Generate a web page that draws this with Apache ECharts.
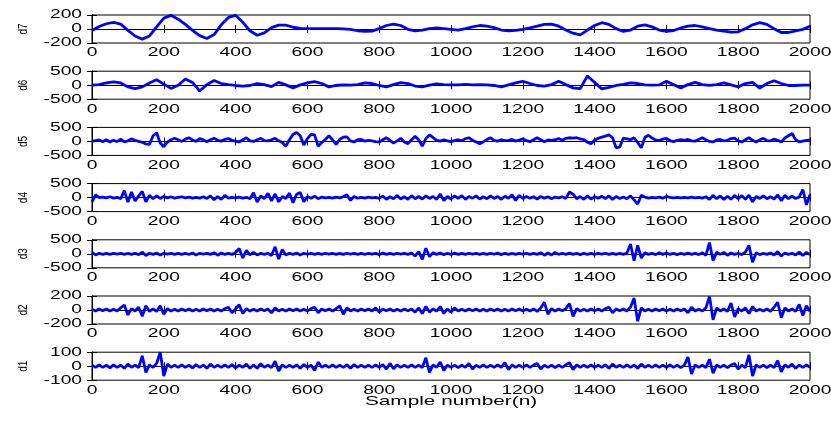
<!DOCTYPE html>
<html>
<head>
<meta charset="utf-8">
<script src="https://cdn.jsdelivr.net/npm/echarts@6/dist/echarts.min.js"></script>
<style>
  html, body { margin: 0; background: #fff; }
  #chart { width: 831px; height: 421px; }
</style>
</head>
<body>
<div id="chart"></div>
<script>
// detail coefficients, d7/d6 every 20 samples, the rest every 10
var d7 = [-20, 35, 75, 95, 70, -20, -100, -145, -100, 30, 155, 195, 140, 65, -20, -95, -135, -80, 60, 165,
  195, 95, -25, -90, -55, 20, 55, 55, 25, 8, 5, 5, 5, 5, 5, 3, -5, -25, -35, -30,
  5, 50, 70, 50, -5, -28, -15, 5, 15, 5, -5, -15, 5, 30, 50, 40, 20, -15, -28, -20,
  -5, 15, 40, 65, 70, 40, -15, -60, -85, -15, 50, 90, 65, 5, -35, -15, 40, 60, 30, -15,
  -35, -22, 15, 40, 50, 30, 5, -15, -30, -45, -40, 5, 60, 90, 65, 5, -50, -50, -28, -5, 40]
var d6 = [0, 20, 80, 120, 80, -60, -125, -60, 80, 195, 40, -115, 0, 220, 100, -210, 20, 170, 60, 20,
  -10, -30, -10, 60, 20, -50, 100, 10, -95, 10, 80, 130, 60, -60, -10, 10, 0, 20, 80, 60,
  -10, -60, 20, 95, 60, -30, -60, 0, 50, 20, 10, 10, 30, 10, 20, 10, -10, -60, 10, 80,
  140, 60, -10, -30, 20, 140, 20, -95, -120, 330, 100, -130, -80, -10, 30, 80, 60, 10, 0, 10,
  140, 20, -95, 20, 100, 20, -10, 20, 80, 10, -60, 60, 100, -105, 60, 160, 60, -10, -10, 0, 0]
var d5 = [10, 30, 50, -10, 60, -20, 40, -10, 80, -20,
  20, 90, 40, 0, -30, -90, -110, 200, 310, -60,
  -190, -30, 60, 110, 60, 0, 80, 130, 50, 0,
  100, 60, -10, 60, 110, 40, 10, 70, 100, 40,
  10, -20, 60, 130, 20, 0, 60, 110, 30, 20,
  60, 110, 20, -40, -170, 60, 250, 320, 200, -130,
  100, 250, 230, -170, -40, 70, 200, 60, -110, 80,
  150, 160, 20, -20, 60, 70, 10, 40, 20, -10,
  -20, 60, 130, 40, -60, 20, 110, -20, -80, 60,
  180, 60, -170, 100, 230, 140, 40, 10, 60, 20,
  -10, 30, 60, 20, 100, 130, 40, -20, -85, -20,
  70, 130, 40, 10, 60, 30, 40, 70, 10, 50,
  90, 30, -10, 60, 130, 60, -10, 50, 40, 60,
  100, 40, 110, 130, 120, 130, 90, 60, -30, -85,
  40, 110, 150, 190, 230, 130, -230, -200, 120, 90,
  60, 130, -40, -230, 140, 220, 120, 50, 30, 80,
  110, 30, -10, 40, 60, 40, 70, 20, 10, 70,
  130, 60, 0, -20, 50, 70, 20, 40, 100, 120,
  20, -20, 60, 130, 40, -20, 60, 110, 30, 20,
  80, 40, -20, 120, 200, 280, 60, -20, 10, 40,
  50]
var d4 = [-150, 100, 0, 20, -10, 30, -20, 10, -40, 250,
  -160, 200, -120, 60, 220, -150, 80, -40, 60, -30,
  40, -10, 30, -20, 10, 30, -10, 20, -20, 10,
  -20, 30, -30, 60, -80, 40, -60, 80, -20, 10,
  -10, 20, -20, 10, -40, 170, -160, 60, -40, 150,
  -120, 130, -150, 40, -30, 160, -180, 120, 180, -150,
  40, -20, 50, -40, 20, -10, 10, -20, 20, -10,
  30, 100, -100, 40, -20, 10, -20, 20, -10, 10,
  -30, 60, -60, 30, -40, 80, -50, 30, -60, 70,
  -40, 40, -50, 60, -30, 40, -60, 130, -110, 40,
  -50, 60, -30, 70, -60, 40, -20, 60, -50, 30,
  -40, 60, -30, 40, -60, 50, -20, 100, -100, 80,
  -30, 40, -20, 30, -50, 40, -20, 30, -40, 20,
  -10, 30, -30, 200, 120, -40, 40, -60, 60, -50,
  30, -20, 50, -40, 60, -70, 40, -30, 20, -40,
  60, -80, -230, 80, 20, -20, 10, -10, 20, -20,
  40, 10, -10, 10, -10, 10, -10, 20, -10, 10,
  -20, 30, -60, 80, -40, 60, -70, 50, -60, 80,
  -40, 70, -60, 90, -150, 40, -30, 60, -40, 30,
  -50, 100, -110, 80, -40, 50, -30, 20, 290, -260,
  100]
var d3 = [50, -40, 20, -20, 15, -20, 20, -15, 20, -20,
  15, -20, 20, -30, 60, -60, 20, -20, 30, -40,
  20, -15, 20, -20, 15, -20, 20, -25, 30, -40,
  20, -15, 20, -20, 40, -50, 30, -20, 15, -20,
  40, 190, -150, 120, -40, 50, -40, 20, -20, 20,
  -60, 250, -190, 150, -40, 20, -20, 30, -40, 20,
  -15, 20, -20, 15, -20, 20, -15, 20, -20, 15,
  -20, 20, -15, 20, -20, 15, -20, 20, -15, 20,
  -30, 30, -20, 15, -20, 20, -15, 20, -20, 30,
  -80, 80, -200, 200, -100, 40, -20, 30, -30, 20,
  -20, 30, -20, 15, -20, 20, -15, 20, -20, 15,
  -20, 20, -15, 30, -30, 20, -20, 15, -20, 20,
  -15, 20, -20, 15, -20, 40, -50, 30, -40, 50,
  -20, 20, -20, 30, -20, 20, -30, 20, -20, 15,
  -20, 20, -15, 20, -20, 15, -20, 20, -20, 30,
  350, -250, 300, -150, 40, -20, 20, -30, 40, -20,
  30, -20, 20, -30, 20, -20, 30, -20, 20, -30,
  40, -60, 400, -250, 60, -20, 50, -50, 30, -20,
  20, -30, 60, 300, -300, 40, -30, 20, -20, 30,
  -40, 80, -80, 30, -20, 20, -40, 60, -60, 50,
  -30]
var d2 = [10, -15, 15, -10, 15, -15, 10, -15, 30, 70,
  -70, 20, -15, 40, -90, 60, -20, 15, -20, 60,
  -60, 20, -15, 10, -15, 15, -10, 15, -15, 10,
  -15, 15, -10, 15, -15, 10, -15, 20, 40, -40,
  15, 75, -50, 20, -15, 10, -15, 15, -10, 15,
  -40, 30, -15, 10, -15, 15, -10, 15, -15, 10,
  -15, 20, 40, -40, 15, -10, 15, -15, 20, 60,
  -60, 30, -15, 10, -15, 15, -10, 15, -15, 30,
  -30, 15, -10, 15, -15, 10, -15, 15, -10, 15,
  -30, 30, -50, 50, -30, 15, -15, 50, -50, 15,
  -30, 30, -15, 10, -15, 15, -10, 15, -15, 10,
  -15, 15, -10, 15, -15, 10, -15, 15, -10, 15,
  -15, 10, -15, 15, -20, 30, 110, -60, 20, -15,
  15, -10, 20, 90, -90, 20, -15, 10, -15, 15,
  -10, 15, -15, 20, 40, -40, 15, -10, 15, -15,
  40, 170, -160, 30, -15, 10, -15, 15, -10, 15,
  -15, 10, -15, 15, -10, 15, -40, 40, -15, 10,
  -15, 30, 195, -140, 30, -15, 15, -20, 100, -100,
  20, -15, 30, -50, 50, -15, 10, -15, 15, -20,
  40, 110, -110, 30, -15, 15, -20, 80, -80, 60,
  -20]
var d1 = [8, -8, 10, -8, 8, -12, 10, -8, 8, -15,
  15, -8, 8, -10, 75, -45, 10, -8, 20, 100,
  -70, 15, -8, 8, -8, 10, -8, 8, -12, 12,
  -8, 8, -15, 15, -8, 8, -8, 10, -8, 12,
  -12, 8, -8, 15, -15, 8, -15, 18, -8, 8,
  -10, 35, -35, 10, -8, 8, -8, 10, -15, 12,
  -8, 8, -30, 30, -8, 8, -8, 10, -8, 8,
  -8, 10, -15, 12, -8, 8, -8, 8, -8, 10,
  -8, 12, -20, 20, -18, 10, -8, 8, -8, 10,
  -8, 8, -10, 60, -45, 10, -8, 30, -30, 8,
  -8, 8, -10, 8, -8, 20, -20, 8, -8, 10,
  -8, 8, -8, 10, -8, 25, -25, 10, -8, 8,
  -8, 10, -8, 8, 20, -20, 8, -8, 8, -10,
  8, -8, 10, 25, -25, 10, -8, 8, -8, 10,
  -8, 8, -8, 10, -15, 15, -8, 8, -8, 10,
  -8, 8, -15, 15, -8, 8, -8, 10, -8, 8,
  -8, 10, -8, 8, -10, 8, 65, -55, 10, -8,
  8, -10, 50, -50, 10, -8, 8, -10, 8, 20,
  -20, 8, -10, 80, -70, 10, -8, 8, -10, 8,
  -10, 40, -40, 10, -8, 15, -15, 8, -8, 10,
  -8]
var xTicks = [0, 200, 400, 600, 800, 1000, 1200, 1400, 1600, 1800, 2000]

var panels = [
  { name: 'd7', values: d7, step: 20, lim: 200 },
  { name: 'd6', values: d6, step: 20, lim: 500 },
  { name: 'd5', values: d5, step: 10, lim: 500 },
  { name: 'd4', values: d4, step: 10, lim: 500 },
  { name: 'd3', values: d3, step: 10, lim: 500 },
  { name: 'd2', values: d2, step: 10, lim: 200 },
  { name: 'd1', values: d1, step: 10, lim: 100 }
]

var grid = []
var xAxis = []
var yAxis = []
var series = []

panels.forEach(function (p, i) {
  grid.push({
    left: 92,
    right: 21,
    top: 15 + 56.2 * i,
    height: 28,
    show: true,
    borderColor: '#000',
    borderWidth: 1
  })
  var tick = { show: true, inside: true, length: 4, lineStyle: { color: '#000' } }
  var ytick = { show: true, inside: true, length: 5, lineStyle: { color: '#000' } }
  // bottom and top axes, both only for the inner ticks (labels are drawn below)
  ;['bottom', 'top'].forEach(function (pos) {
    xAxis.push({
      gridIndex: i,
      type: 'value',
      position: pos,
      min: 0,
      max: 2000,
      interval: 200,
      axisLine: { lineStyle: { color: '#000' } },
      axisTick: tick,
      splitLine: { show: false },
      axisLabel: { show: false }
    })
  })
  ;['left', 'right'].forEach(function (pos) {
    yAxis.push({
      gridIndex: i,
      type: 'value',
      position: pos,
      min: -p.lim,
      max: p.lim,
      interval: p.lim,
      axisLine: { show: true, lineStyle: { color: '#000' } },
      axisTick: ytick,
      splitLine: { show: false },
      axisLabel: { show: false }
    })
  })
  series.push({
    type: 'line',
    xAxisIndex: 2 * i,
    yAxisIndex: 2 * i,
    data: p.values.map(function (v, k) { return [k * p.step, v] }),
    showSymbol: false,
    lineStyle: { color: '#0000ff', width: 2.8 },
    silent: true
  })
})

var myChart = echarts.init(document.getElementById('chart'))
myChart.setOption({
  animation: false,
  backgroundColor: '#fff',
  grid: grid,
  xAxis: xAxis,
  yAxis: yAxis,
  series: series
})

// the source figure is stretched sideways, so the texts get a horizontal scale
function label (text, x, y, align, valign, size) {
  return {
    type: 'text',
    x: x,
    y: y,
    scaleX: 1.6,
    silent: true,
    style: {
      text: text,
      font: (size || 12) + 'px "Liberation Sans"',
      fill: '#000',
      align: align,
      verticalAlign: valign,
      textAlign: align,
      textVerticalAlign: valign
    }
  }
}

var texts = []
panels.forEach(function (p, i) {
  var top = myChart.convertToPixel({ yAxisIndex: 2 * i }, p.lim)
  var bottom = myChart.convertToPixel({ yAxisIndex: 2 * i }, -p.lim)
  var left = myChart.convertToPixel({ xAxisIndex: 2 * i }, 0)
  xTicks.forEach(function (v) {
    var x = myChart.convertToPixel({ xAxisIndex: 2 * i }, v)
    texts.push(label(String(v), x, bottom + 4, 'center', 'top'))
  })
  ;[p.lim, 0, -p.lim].forEach(function (v) {
    var y = myChart.convertToPixel({ yAxisIndex: 2 * i }, v)
    texts.push(label(String(v), left - 10, y, 'right', 'middle'))
  })
  texts.push({
    type: 'text',
    x: left - 69,
    y: (top + bottom) / 2,
    rotation: Math.PI / 2,
    scaleY: 1.3,
    silent: true,
    style: {
      text: p.name,
      font: '10px "Liberation Sans"',
      fill: '#000',
      align: 'center',
      verticalAlign: 'middle',
      textAlign: 'center',
      textVerticalAlign: 'middle'
    }
  })
})
texts.push(label('Sample number(n)', 451, 395, 'center', 'top', 13))
myChart.setOption({ graphic: texts })
</script>
</body>
</html>
